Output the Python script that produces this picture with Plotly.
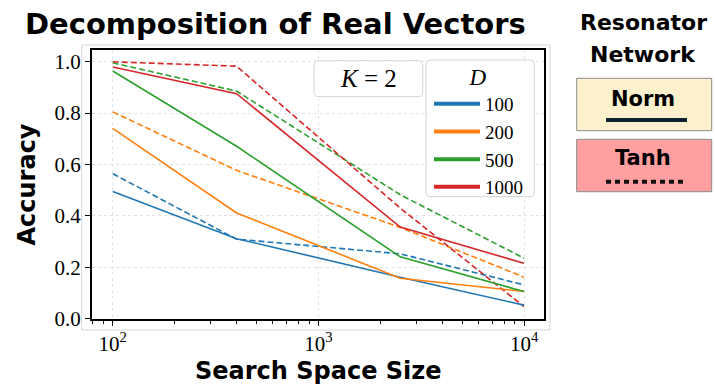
import plotly.graph_objects as go

# ---------------- data ----------------
search_space = [100, 400, 2500, 10000]
dims = ["100", "200", "500", "1000"]
colors = ["#1f77b4", "#ff7f0e", "#2ca02c", "#d62728"]

norm_acc = {
    "100": [0.495, 0.311, 0.161, 0.052],
    "200": [0.741, 0.411, 0.157, 0.105],
    "500": [0.964, 0.671, 0.240, 0.105],
    "1000": [0.980, 0.876, 0.356, 0.215],
}
tanh_acc = {
    "100": [0.564, 0.309, 0.252, 0.131],
    "200": [0.805, 0.577, 0.355, 0.161],
    "500": [0.996, 0.886, 0.482, 0.235],
    "1000": [1.000, 0.983, 0.430, 0.046],
}
y_ticks = [0.0, 0.2, 0.4, 0.6, 0.8, 1.0]
x_ticks = [100, 1000, 10000]
x_ticktext = ["10<sup>2</sup>", "10<sup>3</sup>", "10<sup>4</sup>"]
minor_x = [80, 90] + [m * 100 for m in range(2, 10)] + [m * 1000 for m in range(2, 10)]

SANS = "DejaVu Sans"
SERIF = "Liberation Serif"
BOLD = 700

fig = go.Figure()

for d, c in zip(dims, colors):
    fig.add_trace(go.Scatter(x=search_space, y=tanh_acc[d], mode="lines",
                             line=dict(color=c, width=1.6, dash="6px,3px"),
                             showlegend=False))
for d, c in zip(dims, colors):
    fig.add_trace(go.Scatter(x=search_space, y=norm_acc[d], mode="lines",
                             line=dict(color=c, width=1.6),
                             showlegend=False))
# legend entries
for d, c in zip(dims, colors):
    fig.add_trace(go.Scatter(x=[None], y=[None], mode="lines", name=d,
                             line=dict(color=c, width=4), showlegend=True))

W, H = 715, 387
L, R, T, B = 92, 171, 50, 68
pw, ph = W - L - R, H - T - B

def px(x):
    return (x - L) / pw

def py(y):
    return (H - B - y) / ph

def rounded(x0, y0, x1, y1, r=4):
    rx, ry = r / pw, r / ph
    X0, X1 = px(x0), px(x1)
    Y0, Y1 = py(y1), py(y0)
    return (f"M{X0+rx},{Y1} L{X1-rx},{Y1} Q{X1},{Y1} {X1},{Y1-ry} "
            f"L{X1},{Y0+ry} Q{X1},{Y0} {X1-rx},{Y0} L{X0+rx},{Y0} "
            f"Q{X0},{Y0} {X0},{Y0+ry} L{X0},{Y1-ry} Q{X0},{Y1} {X0+rx},{Y1} Z")

shapes = []
shapes.append(dict(type="rect", xref="paper", yref="paper",
                   x0=px(81.7), x1=px(550), y0=py(330), y1=py(45),
                   line=dict(color="#d6d6d6", width=1), layer="below"))
shapes.append(dict(type="path", xref="paper", yref="paper",
                   path=rounded(314, 60.7, 422.7, 96.7),
                   fillcolor="rgba(255,255,255,0.85)",
                   line=dict(color="#d4d4d4", width=1), layer="above"))
shapes.append(dict(type="path", xref="paper", yref="paper",
                   path=rounded(426, 60, 534.3, 196.7),
                   fillcolor="rgba(255,255,255,0.85)",
                   line=dict(color="#d4d4d4", width=1), layer="above"))
shapes.append(dict(type="rect", xref="paper", yref="paper",
                   x0=px(576.7), x1=px(711.7), y0=py(130.7), y1=py(78.3),
                   fillcolor="#fdf0cc", line=dict(color="#8c8c8c", width=1)))
shapes.append(dict(type="rect", xref="paper", yref="paper",
                   x0=px(576.7), x1=px(711.7), y0=py(191.7), y1=py(139.3),
                   fillcolor="#ff9f9f", line=dict(color="#8c8c8c", width=1)))
shapes.append(dict(type="line", xref="paper", yref="paper",
                   x0=px(606), x1=px(687), y0=py(120), y1=py(120),
                   line=dict(color="#0b2231", width=4)))
shapes.append(dict(type="line", xref="paper", yref="paper",
                   x0=px(606), x1=px(687), y0=py(181.7), y1=py(181.7),
                   line=dict(color="#111111", width=4, dash="5px,4px")))

annotations = [
    dict(text="Decomposition of Real Vectors", x=px(275), y=py(24),
         font=dict(family=SANS, size=29, color="black", weight=BOLD)),
    dict(text="Search Space Size", x=px(318.7), y=py(371),
         font=dict(family=SANS, size=24, color="black", weight=BOLD)),
    dict(text="Accuracy", x=px(26), y=py(184.5), textangle=-90,
         font=dict(family=SANS, size=24, color="black", weight=BOLD)),
    dict(text="Resonator", x=px(643), y=py(22),
         font=dict(family=SANS, size=22, color="black", weight=BOLD)),
    dict(text="Network", x=px(643), y=py(55),
         font=dict(family=SANS, size=22, color="black", weight=BOLD)),
    dict(text="Norm", x=px(643), y=py(99),
         font=dict(family=SANS, size=21, color="black", weight=BOLD)),
    dict(text="Tanh", x=px(643), y=py(158),
         font=dict(family=SANS, size=21, color="black", weight=BOLD)),
    dict(text="<i>K</i> = 2", x=px(368), y=py(78.7),
         font=dict(family=SERIF, size=25, color="black")),
]
for a in annotations:
    a.update(xref="paper", yref="paper", showarrow=False,
             xanchor="center", yanchor="middle")

fig.update_layout(
    width=W, height=H,
    margin=dict(l=L, r=R, t=T, b=B, pad=0),
    paper_bgcolor="white", plot_bgcolor="white",
    shapes=shapes, annotations=annotations,
    legend=dict(x=px(429), y=py(55), xanchor="left", yanchor="top",
                bgcolor="rgba(0,0,0,0)", borderwidth=0,
                font=dict(family=SERIF, size=19, color="black"),
                title=dict(text="<i>D</i>", side="top center",
                           font=dict(family=SERIF, size=23, color="black")),
                itemwidth=46, tracegroupgap=0),
    xaxis=dict(type="log", range=[1.899, 4.097],
               tickvals=x_ticks, ticktext=x_ticktext,
               tickfont=dict(family=SERIF, size=21, color="black"),
               ticks="outside", ticklen=5, tickwidth=1.2, tickcolor="black",
               showline=True, linecolor="black", linewidth=2, mirror=True,
               showgrid=True, gridcolor="#e2e2e2", gridwidth=0.8, griddash="dot",
               minor=dict(tickvals=minor_x, ticks="outside", ticklen=3,
                          tickcolor="black", tickwidth=1, showgrid=False),
               zeroline=False),
    yaxis=dict(range=[-0.002, 1.046], tickvals=y_ticks,
               ticktext=[f"{v:.1f}" for v in y_ticks],
               tickfont=dict(family=SERIF, size=21, color="black"),
               ticks="outside", ticklen=5, tickwidth=1.2, tickcolor="black",
               showline=True, linecolor="black", linewidth=2, mirror=True,
               showgrid=True, gridcolor="#e2e2e2", gridwidth=0.8, griddash="dot",
               zeroline=False),
)

fig.write_html("out.html")
